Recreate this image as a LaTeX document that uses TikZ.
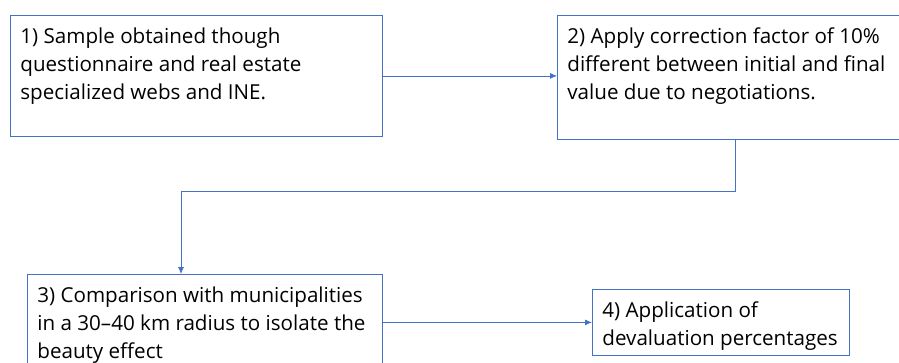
\documentclass[tikz,border=0pt]{standalone}
\usepackage{fontspec}
\setmainfont{Open Sans}
\usepackage{xcolor}
\usetikzlibrary{arrows.meta}
\definecolor{officeblue}{HTML}{4472C4}
\tikzset{>={Latex[length=7bp,width=6bp]}}
\tikzset{
	procbox/.style={
			draw=officeblue, line width=0.8bp, anchor=north west,
			inner xsep=10bp, inner ysep=8bp, text=black,
			font=\fontsize{20.6bp}{28bp}\selectfont
		},
	link/.style={draw=officeblue, line width=0.8bp, ->}
}
\newcommand{\boxtext}[3]{\parbox[t][#2][t]{#1}{\raggedright\strut #3}}

\begin{document}
\begin{tikzpicture}[x=1bp,y=-1bp]
	\useasboundingbox (0,0) rectangle (899,362);

	\node[procbox] (sample) at (10,15) {\boxtext{352bp}{105bp}{1) Sample obtained though\\questionnaire and real estate\\specialized webs and INE.}};
	\node[procbox] (correct) at (557,15) {\boxtext{336bp}{108bp}{2) Apply correction factor of 10\%\\different between initial and final\\value due to negotiations.}};
	\node[procbox] (compare) at (27,274) {\boxtext{335bp}{80bp}{3) Comparison with municipalities\\in a 30–40 km radius to isolate the\\beauty effect}};
	\node[procbox] (devalue) at (592,289) {\boxtext{237bp}{50bp}{4) Application of\\devaluation percentages}};

	\coordinate (bend) at (181,191);

	\draw[link] (sample.east) -- (sample.east -| correct.west);
	\draw[link] (correct.south) |- (bend) -- (bend |- compare.north);
	\draw[link] (compare.east) -- (compare.east -| devalue.west);
\end{tikzpicture}
\end{document}
